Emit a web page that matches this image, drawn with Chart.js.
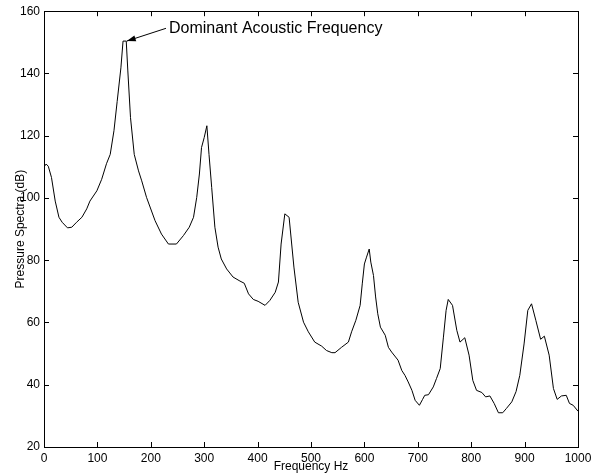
<!DOCTYPE html>
<html>
<head>
<meta charset="utf-8">
<script src="https://cdn.jsdelivr.net/npm/chart.js@4/dist/chart.umd.min.js"></script>
<style>
    html, body { margin: 0; padding: 0; background: #fff; }
    #wrap { width: 603px; height: 474px; }
</style>
</head>
<body>
<div id="wrap"><canvas id="spectra"></canvas></div>
<script>
const freqHz = [0, 4, 8, 14, 21, 28, 34, 44, 52, 61, 71, 80, 86, 99, 108, 117, 124, 131, 137, 144,
    148, 154, 157, 162, 169, 177, 183, 192, 208, 220, 233, 248, 261, 272, 280, 286, 291, 295, 300, 305,
    309, 314, 320, 326, 332, 342, 354, 367, 375, 383, 392, 401, 414, 423, 433, 439, 444, 451, 459, 468,
    476, 486, 495, 507, 520, 529, 539, 545, 557, 570, 576, 584, 592, 596, 600, 604, 609, 612, 617, 621,
    625, 630, 639, 645, 651, 663, 670, 676, 682, 689, 695, 703, 709, 713, 720, 729, 735, 742, 748, 753,
    757, 765, 773, 779, 788, 796, 803, 810, 820, 827, 835, 843, 851, 859, 866, 876, 884, 891, 899, 906,
    913, 921, 930, 937, 946, 954, 961, 969, 978, 984, 991, 1000];
const pressureDb = [110, 110.9, 110.2, 106.6, 99, 93.8, 92.2, 90.4, 90.6, 92.2, 93.8, 96.5, 99, 102.3, 106, 111, 114, 121.6, 131, 141.8,
    150.4, 150.4, 140.8, 125.8, 114, 108.7, 105.5, 100.2, 92.7, 88.4, 85.2, 85.2, 87.9, 90.6, 93.8, 100.2, 107.7, 116.2, 119.4, 123.2,
    114, 103.4, 90.6, 84.2, 80.4, 77.2, 74.6, 73.3, 72.6, 69.2, 67.4, 66.8, 65.5, 67.1, 69.7, 73, 85.2, 94.9, 93.8, 77.8,
    66.5, 60.1, 57, 53.7, 52.4, 51, 50.3, 50.3, 52, 53.7, 57, 60.7, 65.5, 72.4, 78.8, 81, 83.6, 79.4, 75.1, 68.2,
    62.8, 58.5, 55.9, 52, 50.5, 47.9, 44.6, 43, 40.9, 38.2, 35, 33.4, 35.3, 36.6, 36.8, 39.3, 42, 45.2, 55.3, 63.9,
    67.4, 65.5, 57.5, 53.7, 55.1, 49.5, 41.4, 38.2, 37.5, 36.1, 36.4, 34, 31, 31, 32.4, 34.5, 37.8, 43, 53.1, 63.9,
    66, 60.7, 54.6, 55.6, 49.5, 38.8, 35.3, 36.4, 36.6, 34, 33.4, 31.5];

const xTicks = [0, 100, 200, 300, 400, 500, 600, 700, 800, 900, 1000];
const yTicks = [20, 40, 60, 80, 100, 120, 140, 160];

const annotationText = 'Dominant Acoustic Frequency';
const annotationAt = [234, 154.5];   // where the label starts (Hz, dB)
const arrowTip = [155, 150.4];       // peak the arrow points to

const fontFamily = '"Liberation Sans", Arial, sans-serif';

// box round the plot and the little inward ticks on all four sides
const boxTicks = {
    id: 'boxTicks',
    afterDraw(chart) {
        const ctx = chart.ctx;
        const area = chart.chartArea;
        const xs = chart.scales.x, ys = chart.scales.y;
        const len = 5;
        ctx.save();
        ctx.strokeStyle = '#000';
        ctx.lineWidth = 1;
        ctx.strokeRect(Math.round(area.left) + 0.5, Math.round(area.top) + 0.5,
            Math.round(area.right - area.left), Math.round(area.bottom - area.top));
        ctx.beginPath();
        xTicks.forEach(v => {
            const px = Math.round(xs.getPixelForValue(v)) + 0.5;
            ctx.moveTo(px, area.bottom); ctx.lineTo(px, area.bottom - len);
            ctx.moveTo(px, area.top); ctx.lineTo(px, area.top + len);
        });
        yTicks.forEach(v => {
            const py = Math.round(ys.getPixelForValue(v)) + 0.5;
            ctx.moveTo(area.left, py); ctx.lineTo(area.left + len, py);
            ctx.moveTo(area.right, py); ctx.lineTo(area.right - len, py);
        });
        ctx.stroke();
        ctx.restore();
    }
};

const peakNote = {
    id: 'peakNote',
    afterDraw(chart) {
        const ctx = chart.ctx;
        const xs = chart.scales.x, ys = chart.scales.y;
        const tx = xs.getPixelForValue(annotationAt[0]);
        const ty = ys.getPixelForValue(annotationAt[1]);
        const ax = xs.getPixelForValue(arrowTip[0]);
        const ay = ys.getPixelForValue(arrowTip[1]);
        ctx.save();
        ctx.fillStyle = '#000';
        ctx.strokeStyle = '#000';
        ctx.font = '16px ' + fontFamily;
        ctx.textBaseline = 'middle';
        ctx.textAlign = 'left';
        ctx.fillText(annotationText, tx, ty);

        const sx = tx - 3, sy = ty;
        ctx.lineWidth = 1;
        ctx.beginPath();
        ctx.moveTo(sx, sy);
        ctx.lineTo(ax, ay);
        ctx.stroke();

        const ang = Math.atan2(ay - sy, ax - sx);
        const head = 9, half = 3;
        ctx.beginPath();
        ctx.moveTo(ax, ay);
        ctx.lineTo(ax - head * Math.cos(ang) + half * Math.sin(ang), ay - head * Math.sin(ang) - half * Math.cos(ang));
        ctx.lineTo(ax - head * Math.cos(ang) - half * Math.sin(ang), ay - head * Math.sin(ang) + half * Math.cos(ang));
        ctx.closePath();
        ctx.fill();
        ctx.restore();
    }
};

const points = freqHz.map((f, i) => ({ x: f, y: pressureDb[i] }));

new Chart(document.getElementById('spectra'), {
    type: 'line',
    data: {
        datasets: [{
            data: points,
            borderColor: '#000',
            borderWidth: 1,
            pointRadius: 0,
            tension: 0,
            fill: false
        }]
    },
    options: {
        responsive: true,
        maintainAspectRatio: false,
        animation: false,
        layout: {
            padding: { left: 0, right: 25, top: 10, bottom: 0 }
        },
        scales: {
            x: {
                type: 'linear',
                min: 0,
                max: 1000,
                afterBuildTicks: scale => { scale.ticks = xTicks.map(v => ({ value: v })); },
                afterFit: scale => { scale.height = 27; },
                grid: { display: false, drawTicks: false, tickLength: 0 },
                border: { display: false },
                ticks: {
                    color: '#000',
                    padding: 4,
                    maxRotation: 0,
                    callback: v => String(v),
                    font: { family: fontFamily, size: 12 }
                },
                title: {
                    display: true,
                    text: 'Frequency Hz',
                    color: '#000',
                    padding: { top: 0, bottom: 0 },
                    font: { family: fontFamily, size: 12 }
                }
            },
            y: {
                min: 20,
                max: 160,
                afterBuildTicks: scale => { scale.ticks = yTicks.map(v => ({ value: v })); },
                afterFit: scale => { scale.width = 44; },
                grid: { display: false, drawTicks: false, tickLength: 0 },
                border: { display: false },
                ticks: {
                    color: '#000',
                    padding: 4,
                    callback: v => String(v),
                    font: { family: fontFamily, size: 12 }
                },
                title: {
                    display: true,
                    text: 'Pressure Spectra (dB)',
                    color: '#000',
                    padding: { top: 13, bottom: 0 },
                    font: { family: fontFamily, size: 12 }
                }
            }
        },
        plugins: {
            legend: { display: false },
            tooltip: { enabled: false }
        }
    },
    plugins: [boxTicks, peakNote]
});
</script>
</body>
</html>
